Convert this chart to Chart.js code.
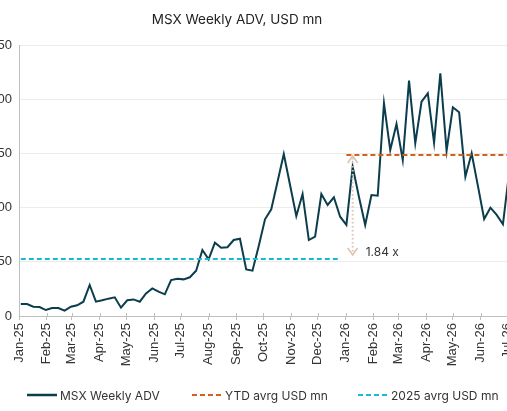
<!DOCTYPE html>
<html><head><meta charset="utf-8">
<script src="https://cdn.jsdelivr.net/npm/chart.js@4.4.1/dist/chart.umd.min.js"></script>
<style>
html,body{margin:0;padding:0;background:#fff;overflow:hidden;}
#wrap{position:relative;width:507px;height:411px;overflow:hidden;background:#fff;}
#c{position:absolute;left:-31px;top:0;}
#title{position:absolute;top:11px;left:0;width:474px;text-align:center;font:13.5px Inter,"Noto Sans",sans-serif;color:#222;white-space:nowrap;}
.lg{position:absolute;top:387px;height:16px;display:flex;align-items:center;font:12px Inter,"Noto Sans",sans-serif;color:#333;white-space:nowrap;}
.lg svg{margin-right:3px;}
</style></head>
<body><div id="wrap">
<canvas id="c" width="545" height="411"></canvas>
<div id="title">MSX Weekly ADV, USD mn</div>
<div class="lg" style="left:27px"><svg width="30" height="4"><line x1="0" y1="2" x2="30" y2="2" stroke="#0b3d4c" stroke-width="2.5"/></svg><span>MSX Weekly ADV</span></div>
<div class="lg" style="left:192px"><svg width="30" height="4"><line x1="0" y1="2" x2="30" y2="2" stroke="#d4601c" stroke-width="2" stroke-dasharray="5 3"/></svg><span>YTD avrg USD mn</span></div>
<div class="lg" style="left:358px"><svg width="30" height="4"><line x1="0" y1="2" x2="30" y2="2" stroke="#1bb9d4" stroke-width="2" stroke-dasharray="5 3"/></svg><span>2025 avrg USD mn</span></div>
</div>
<script>
// ---- data ----
const weekStart = '2025-01-03';
const advValues = [11, 11, 8.6, 8.3, 5.5, 7.4, 7.4, 4.9, 8.6, 9.9,
  13.2, 28.6, 13.2, 14.5, 16, 17.2, 7.7, 14.5, 15.3, 13.2,
  20.9, 25.5, 22.4, 20, 33.2, 34.4, 33.8, 35.7, 41.8, 60.9,
  52.3, 67.6, 63, 63.4, 70.1, 71.3, 43, 41.8, 64.6, 89.2,
  98.4, 123.9, 149.4, 120.8, 92.3, 112.5, 70.1, 73.2, 112.5, 102.4,
  109.5, 91.6, 84, 137.7, 110, 84, 111.6, 111, 196.2, 153.1,
  177.1, 143.9, 217.1, 159.3, 197.7, 205.4, 159.9, 223.9, 152.5, 192.5,
  187.9, 128.5, 150.1, 120, 89.5, 99.9, 93.2, 84.6, 133];
const avg2025 = 52.6;
const ytdAvg = 148.6;
const multipleLabel = '1.84 x';
const monthTicks = ['2025-01-01','2025-02-01','2025-03-01','2025-04-01','2025-05-01','2025-06-01','2025-07-01','2025-08-01','2025-09-01','2025-10-01','2025-11-01','2025-12-01','2026-01-01','2026-02-01','2026-03-01','2026-04-01','2026-05-01','2026-06-01','2026-07-01'];
const monthLabels = ['Jan-25','Feb-25','Mar-25','Apr-25','May-25','Jun-25','Jul-25','Aug-25','Sep-25','Oct-25','Nov-25','Dec-25','Jan-26','Feb-26','Mar-26','Apr-26','May-26','Jun-26','Jul-26'];
const yTicks = [0, 50, 100, 150, 200, 250];
const arrowDate = '2026-01-09';

// ---- helpers ----
const origin = Date.parse('2025-01-01');
const days = d => (Date.parse(d) - origin) / 86400000;
const startDay = days(weekStart);
const weekDays = advValues.map((v, i) => startDay + 7 * i);
const advPoints = advValues.map((v, i) => ({x: weekDays[i], y: v}));
const idx2025 = weekDays.map((d, i) => i).filter(i => weekDays[i] < days('2026-01-01'));
const idx2026 = weekDays.map((d, i) => i).filter(i => weekDays[i] >= days('2026-01-01'));
const xMax = 550;
const avg2025Pts = [{x: weekDays[idx2025[0]], y: avg2025}, {x: weekDays[idx2025[idx2025.length - 1]], y: avg2025}];
const ytdPts = [{x: weekDays[idx2026[0]], y: ytdAvg}, {x: xMax, y: ytdAvg}];
const tickValues = monthTicks.map(days);
const labelByValue = {};
tickValues.forEach((v, i) => labelByValue[v] = monthLabels[i]);

const tickCross = {
  id: 'tickCross',
  afterDraw(chart) {
    const s = chart.scales.x, ctx = chart.ctx, b = chart.chartArea.bottom;
    ctx.save(); ctx.strokeStyle = '#bfbfbf'; ctx.lineWidth = 1;
    s.ticks.forEach(t => { const px = Math.round(s.getPixelForValue(t.value)) + 0.5; ctx.beginPath(); ctx.moveTo(px, b - 3); ctx.lineTo(px, b); ctx.stroke(); });
    ctx.restore();
  }
};
const arrowPlugin = {
  id: 'arrowPlugin',
  afterDatasetsDraw(chart) {
    const x = chart.scales.x.getPixelForValue(days(arrowDate));
    const yT = chart.scales.y.getPixelForValue(ytdAvg) + 1;
    const yB = chart.scales.y.getPixelForValue(avg2025) - 4;
    const ctx = chart.ctx;
    ctx.save();
    ctx.strokeStyle = '#dcc3b1';
    ctx.lineWidth = 2;
    ctx.setLineDash([1.5, 2.5]);
    ctx.beginPath(); ctx.moveTo(x, yT + 2); ctx.lineTo(x, yB - 2); ctx.stroke();
    ctx.setLineDash([]);
    ctx.lineWidth = 1.6;
    ctx.beginPath(); ctx.moveTo(x - 5, yT + 7); ctx.lineTo(x, yT); ctx.lineTo(x + 5, yT + 7); ctx.stroke();
    ctx.beginPath(); ctx.moveTo(x - 5, yB - 7); ctx.lineTo(x, yB); ctx.lineTo(x + 5, yB - 7); ctx.stroke();
    ctx.fillStyle = '#333';
    ctx.font = '12px Inter, "Noto Sans", sans-serif';
    ctx.textBaseline = 'middle';
    ctx.fillText(multipleLabel, x + 13, yB - 3);
    ctx.restore();
  }
};

new Chart(document.getElementById('c'), {
  type: 'line',
  data: {
    datasets: [
      {label: 'MSX Weekly ADV', data: advPoints, borderColor: '#0b3d4c', borderWidth: 2, pointRadius: 0, tension: 0, order: 3},
      {label: 'YTD avrg USD mn', data: ytdPts, borderColor: '#d4601c', borderWidth: 2, borderDash: [5, 3], pointRadius: 0, order: 2},
      {label: '2025 avrg USD mn', data: avg2025Pts, borderColor: '#1bb9d4', borderWidth: 2, borderDash: [5, 3], pointRadius: 0, order: 1}
    ]
  },
  options: {
    responsive: false,
    animation: false,
    layout: {padding: {top: 45, bottom: 35, left: 0, right: 3}},
    plugins: {legend: {display: false}, title: {display: false}, tooltip: {enabled: false}},
    scales: {
      x: {
        type: 'linear', min: 0, max: xMax,
        afterBuildTicks: s => { s.ticks = tickValues.map(v => ({value: v})); },
        afterFit: s => { s.height = 60; s.paddingLeft = 0; s.paddingRight = 0; },
        ticks: {autoSkip: false, maxRotation: 90, minRotation: 90, padding: 3, color: '#333',
          font: {family: '"Liberation Sans", Arial, sans-serif', size: 13},
          callback: v => labelByValue[v] || ''},
        grid: {drawOnChartArea: false, drawTicks: true, tickLength: 4, color: '#bfbfbf'},
        border: {color: '#bfbfbf'}
      },
      y: {
        min: 0, max: 250,
        afterBuildTicks: s => { s.ticks = yTicks.map(v => ({value: v})); },
        afterFit: s => { s.width = 50; },
        ticks: {padding: 7, color: '#333', font: {family: '"Liberation Sans", Arial, sans-serif', size: 13}},
        grid: {drawTicks: false, color: '#ececec'},
        border: {color: '#bfbfbf'}
      }
    }
  },
  plugins: [tickCross, arrowPlugin]
});
</script>
</body></html>
